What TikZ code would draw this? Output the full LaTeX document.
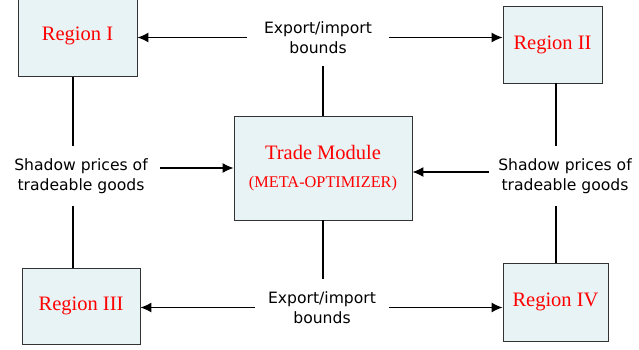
\documentclass[tikz,border=0pt]{standalone}
\usepackage{fontspec}
\setmainfont{Liberation Serif}
\newfontfamily\labelfont{DejaVu Sans}
\usetikzlibrary{arrows.meta}
\usetikzlibrary{calc}

\definecolor{boxfill}{RGB}{231,243,245}
\definecolor{boxline}{RGB}{51,51,51}

\begin{document}
\begin{tikzpicture}[x=1pt,y=-1pt,
    regionbox/.style={draw=boxline,line width=0.9pt,fill=boxfill,text=red,font=\fontsize{20.5}{24}\selectfont},
    flowtext/.style={align=center,font=\labelfont\fontsize{15.6}{20}\selectfont,inner xsep=15pt,inner ysep=12pt},
    flow/.style={line width=1.2pt,-{Latex[length=11pt,width=10pt]}}]
    \useasboundingbox (0,0) rectangle (639,349);

    % Boxes:
    \node [regionbox,minimum width=119pt,minimum height=81pt] (r1) at (77.5,36) {Region I};
    \node [regionbox,minimum width=99pt,minimum height=77pt] (r2) at (552.5,44.5) {Region II};
    \node [regionbox,minimum width=118pt,minimum height=76pt] (r3) at (81,306) {Region III};
    \node [regionbox,minimum width=105pt,minimum height=78pt] (r4) at (555.5,302) {Region IV};
    \node [regionbox,minimum width=178pt,minimum height=104pt,align=center] (tm) at (323,168)
        {Trade Module\\[4pt]{\fontsize{16.3}{18}\selectfont(META-OPTIMIZER)}};

    % Labels:
    \node [flowtext,inner xsep=17pt] (eitop) at (318,37.5) {Export/import\\bounds};
    \node [flowtext,inner xsep=13pt] (eibot) at (322,307.5) {Export/import\\bounds};
    \node [flowtext,inner xsep=12pt] (spleft) at (81,176) {Shadow prices of\\tradeable goods};
    \node [flowtext,inner xsep=9pt] (spright) at (565,176) {Shadow prices of\\tradeable goods};

    % Export/import bounds go out to the regions
    \draw [flow] (eitop.west) -- (eitop.west -| r1.east);
    \draw [flow] (eitop.east) -- (eitop.east -| r2.west);
    \draw [flow] (eibot.west) -- (eibot.west -| r3.east);
    \draw [flow] (eibot.east) -- (eibot.east -| r4.west);
    \draw [line width=1.2pt] (tm.north) -- (tm.north |- eitop.south);
    \draw [line width=1.2pt] (tm.south) -- (tm.south |- eibot.north);

    % Shadow prices come back to the trade module
    \draw [line width=1.2pt] (73,0 |- r1.south) -- (73,0 |- spleft.north);
    \draw [line width=1.2pt] (73,0 |- r3.north) -- (73,0 |- spleft.south);
    \draw [line width=1.2pt] (556,0 |- r2.south) -- (556,0 |- spright.north);
    \draw [line width=1.2pt] (556,0 |- r4.north) -- (556,0 |- spright.south);
    \draw [flow] (spleft.east |- tm.west) -- (tm.west);
    \draw [flow] ([yshift=4pt]spright.west) -- ([yshift=4pt]spright.west -| tm.east);
\end{tikzpicture}
\end{document}
